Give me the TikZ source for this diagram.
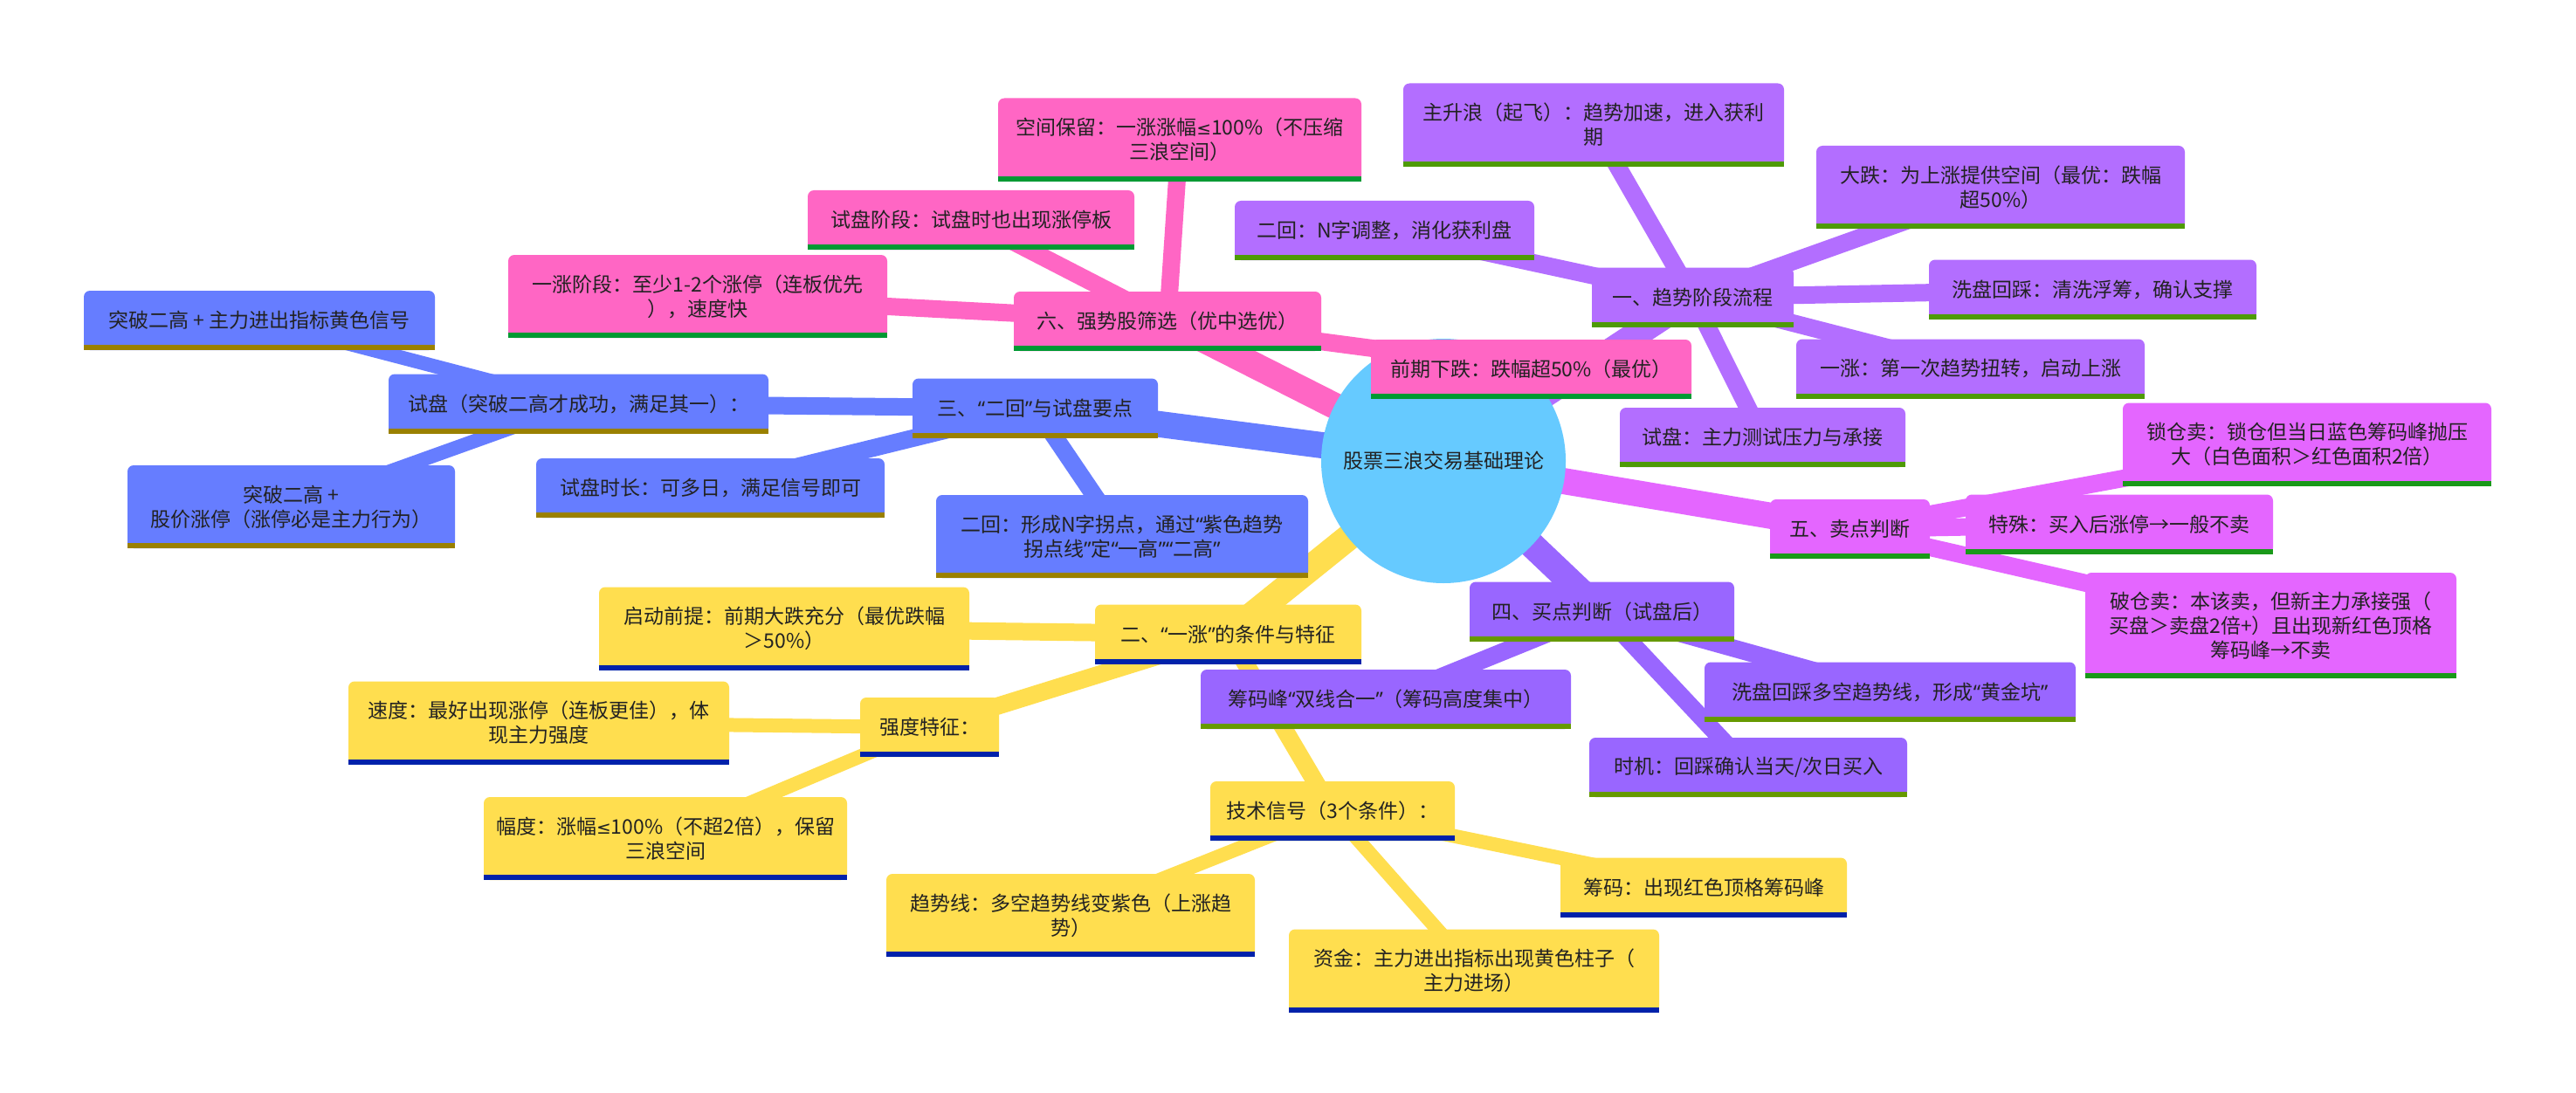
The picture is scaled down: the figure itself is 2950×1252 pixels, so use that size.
\documentclass[tikz,border=0pt]{standalone}
\usepackage{fontspec}
\setmainfont{Noto Sans CJK SC}
\newfontfamily\qfont{Noto Sans}
\newfontfamily\symfont{DejaVu Sans}
\newcommand{\qt}[1]{{\qfont“}#1{\qfont”}}
\newcommand{\lessq}{{\symfont\fontsize{20}{28}\selectfont ≤}}
\usetikzlibrary{backgrounds}

\definecolor{ink}{HTML}{222222}
\definecolor{hubcol}{HTML}{66CAFF}
\definecolor{c1}{HTML}{B36EFF}\definecolor{u1}{HTML}{4E9A06}
\definecolor{c2}{HTML}{FFDE4F}\definecolor{u2}{HTML}{0022AA}
\definecolor{c3}{HTML}{667DFF}\definecolor{u3}{HTML}{9A8000}
\definecolor{c4}{HTML}{9966FF}\definecolor{u4}{HTML}{669900}
\definecolor{c5}{HTML}{E466FF}\definecolor{u5}{HTML}{199919}
\definecolor{c6}{HTML}{FF66C4}\definecolor{u6}{HTML}{009933}

\begin{document}
\begin{tikzpicture}[x=1pt, y=-1pt, font=\fontsize{23}{28}\selectfont]
	\tikzstyle{topic}=[rectangle, rounded corners=7pt, fill=#1, text=ink, align=center,
		inner xsep=12pt, inner ysep=6pt, minimum height=68pt]
	\tikzstyle{hub}=[circle, fill=hubcol, text=ink, minimum size=280pt, inner sep=0pt]
	\tikzstyle{stagebox}=[topic=c1]
	\tikzstyle{rallybox}=[topic=c2]
	\tikzstyle{retestbox}=[topic=c3]
	\tikzstyle{buybox}=[topic=c4]
	\tikzstyle{sellbox}=[topic=c5]
	\tikzstyle{pickbox}=[topic=c6]
	\tikzstyle{two}=[minimum height=95pt]
	\tikzstyle{three}=[minimum height=121pt]
	\tikzstyle{trunk}=[line width=30pt, draw=#1]
	\tikzstyle{twig}=[line width=20pt, draw=#1]
	\tikzstyle{leaf}=[line width=16pt, draw=#1]

	\useasboundingbox (0,0) rectangle (2950,1252);

	\node[hub] (root) at (1653,528) {股票三浪交易基础理论};

	% 一、趋势阶段流程
	\node[stagebox, minimum width=231pt] (s1) at (1938.5,340.5) {一、趋势阶段流程};
	\node[stagebox, two, minimum width=436pt] (s1a) at (1825,143) {主升浪（起飞）：趋势加速，进入获利\\期};
	\node[stagebox, two, minimum width=422pt] (s1b) at (2291,214.5) {大跌：为上涨提供空间（最优：跌幅\\超50\%）};
	\node[stagebox, minimum width=343pt] (s1c) at (1585.5,264) {二回：N字调整，消化获利盘};
	\node[stagebox, minimum width=375pt] (s1d) at (2396.5,331.5) {洗盘回踩：清洗浮筹，确认支撑};
	\node[stagebox, minimum width=399pt] (s1e) at (2256.5,422.5) {一涨：第一次趋势扭转，启动上涨};
	\node[stagebox, minimum width=327pt] (s1f) at (2018.5,501) {试盘：主力测试压力与承接};

	% 六、强势股筛选
	\node[pickbox, minimum width=352pt] (p6) at (1337,368) {六、强势股筛选（优中选优）};
	\node[pickbox, two, minimum width=416pt] (p6a) at (1351,160) {空间保留：一涨涨幅\lessq100\%（不压缩\\三浪空间）};
	\node[pickbox, minimum width=374pt] (p6b) at (1112,252) {试盘阶段：试盘时也出现涨停板};
	\node[pickbox, two, minimum width=434pt] (p6c) at (799,339.5) {一涨阶段：至少1-2个涨停（连板优先\\），速度快};
	\node[pickbox, minimum width=367pt] (p6d) at (1753.5,423) {前期下跌：跌幅超50\%（最优）};

	% 三、二回与试盘
	\node[retestbox, minimum width=281pt] (t3) at (1185.5,467.5) {三、\qt{二回}与试盘要点};
	\node[retestbox, minimum width=435pt] (t3a) at (662.5,462.5) {试盘（突破二高才成功，满足其一）：};
	\node[retestbox, minimum width=402pt] (t3a1) at (297,367) {突破二高 + 主力进出指标黄色信号};
	\node[retestbox, two, minimum width=375pt] (t3a2) at (333.5,580.5) {突破二高 +\\股价涨停（涨停必是主力行为）};
	\node[retestbox, minimum width=399pt] (t3b) at (813.5,559) {试盘时长：可多日，满足信号即可};
	\node[retestbox, two, minimum width=426pt] (t3c) at (1285,614.5) {二回：形成N字拐点，通过{\qfont“}紫色趋势\\拐点线{\qfont”}定\qt{一高}\qt{二高}};

	% 二、一涨
	\node[rallybox, minimum width=305pt] (r2) at (1406.5,726.5) {二、\qt{一涨}的条件与特征};
	\node[rallybox, two, minimum width=424pt] (r2a) at (898,720) {启动前提：前期大跌充分（最优跌幅\\＞50\%）};
	\node[rallybox, minimum width=159pt] (r2b) at (1064.5,833) {强度特征：};
	\node[rallybox, two, minimum width=436pt] (r2b1) at (617,828) {速度：最好出现涨停（连板更佳），体\\现主力强度};
	\node[rallybox, two, minimum width=416pt] (r2b2) at (762,960.5) {幅度：涨幅\lessq100\%（不超2倍），保留\\三浪空间};
	\node[rallybox, minimum width=280pt] (r2c) at (1526,929) {技术信号（3个条件）：};
	\node[rallybox, two, minimum width=422pt] (r2c1) at (1226,1048.5) {趋势线：多空趋势线变紫色（上涨趋\\势）};
	\node[rallybox, two, minimum width=424pt] (r2c2) at (1688,1112) {资金：主力进出指标出现黄色柱子（\\主力进场）};
	\node[rallybox, minimum width=328pt] (r2c3) at (1951,1016.5) {筹码：出现红色顶格筹码峰};

	% 四、买点
	\node[buybox, minimum width=303pt] (b4) at (1834.5,700.5) {四、买点判断（试盘后）};
	\node[buybox, minimum width=424pt] (b4a) at (1587,801) {筹码峰\qt{双线合一}（筹码高度集中）};
	\node[buybox, minimum width=425pt] (b4b) at (2164.5,792.5) {洗盘回踩多空趋势线，形成\qt{黄金坑}};
	\node[buybox, minimum width=364pt] (b4c) at (2002,879) {时机：回踩确认当天/次日买入};

	% 五、卖点
	\node[sellbox, minimum width=183pt] (s5) at (2118.5,606) {五、卖点判断};
	\node[sellbox, two, minimum width=422pt] (s5a) at (2642,509) {锁仓卖：锁仓但当日蓝色筹码峰抛压\\大（白色面积＞红色面积2倍）};
	\node[sellbox, minimum width=352pt] (s5b) at (2427,600.5) {特殊：买入后涨停→一般不卖};
	\node[sellbox, three, minimum width=425pt] (s5c) at (2600.5,716.5) {破仓卖：本该卖，但新主力承接强（\\买盘＞卖盘2倍+）且出现新红色顶格\\筹码峰→不卖};

	% square bottoms and underlines
	\foreach \nlist/\f/\u in {{s1,s1a,s1b,s1c,s1d,s1e,s1f}/c1/u1, {p6,p6a,p6b,p6c,p6d}/c6/u6,
		{t3,t3a,t3a1,t3a2,t3b,t3c}/c3/u3, {r2,r2a,r2b,r2b1,r2b2,r2c,r2c1,r2c2,r2c3}/c2/u2,
		{b4,b4a,b4b,b4c}/c4/u4, {s5,s5a,s5b,s5c}/c5/u5}
		\foreach \n in \nlist {
			\fill[\f] (\n.south west) rectangle ([yshift=9pt]\n.south east);
			\fill[\u] (\n.south west) rectangle ([yshift=6pt]\n.south east);
		};

	\begin{scope}[on background layer]
		\fill[white] (0,0) rectangle (2950,1252);
		\foreach \b/\c in {s1/c1, p6/c6, t3/c3, r2/c2, b4/c4, s5/c5}
			\draw[trunk=\c] (root.center) -- (\b.center);
		\foreach \b in {s1a, s1b, s1c, s1d, s1e, s1f}
			\draw[twig=c1] (s1.center) -- (\b.center);
		\foreach \b in {p6a, p6b, p6c, p6d}
			\draw[twig=c6] (p6.center) -- (\b.center);
		\foreach \b in {t3a, t3b, t3c}
			\draw[twig=c3] (t3.center) -- (\b.center);
		\foreach \b in {r2a, r2b, r2c}
			\draw[twig=c2] (r2.center) -- (\b.center);
		\foreach \b in {b4a, b4b, b4c}
			\draw[twig=c4] (b4.center) -- (\b.center);
		\foreach \b in {s5a, s5b, s5c}
			\draw[twig=c5] (s5.center) -- (\b.center);
		\foreach \a/\b/\c in {t3a/t3a1/c3, t3a/t3a2/c3, r2b/r2b1/c2, r2b/r2b2/c2, r2c/r2c1/c2, r2c/r2c2/c2, r2c/r2c3/c2}
			\draw[leaf=\c] (\a.center) -- (\b.center);
	\end{scope}
\end{tikzpicture}
\end{document}
